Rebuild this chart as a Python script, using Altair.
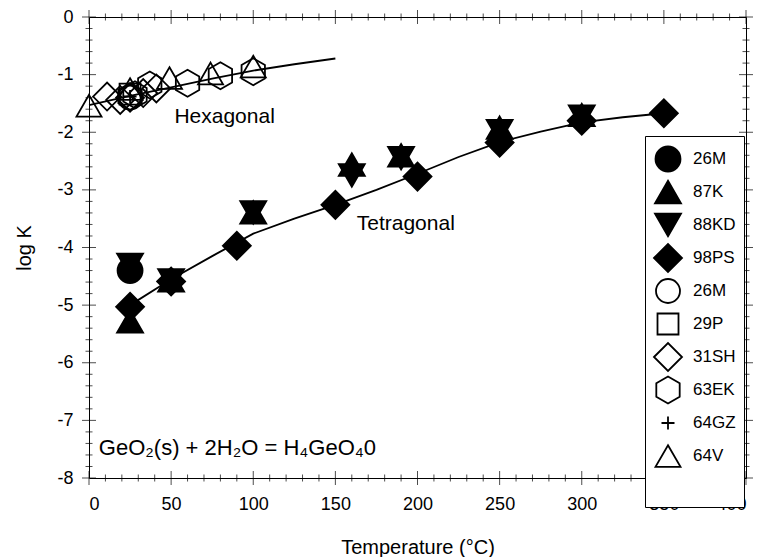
import altair as alt
import pandas as pd

FONT = "Liberation Sans"

# ---- fitted curves ----
hex_T = [0, 25, 50, 75, 100, 125, 150]
hex_logK = [-1.53, -1.37, -1.22, -1.07, -0.93, -0.82, -0.72]
tet_T = [25, 50, 75, 100, 125, 150, 175, 200, 225, 250, 275, 300, 325, 350]
tet_logK = [-5.0, -4.55, -4.15, -3.76, -3.50, -3.26, -3.00, -2.72, -2.43, -2.17, -1.99, -1.83, -1.74, -1.67]

# ---- measured points (tetragonal, filled symbols) ----
m26_T = [25]
m26_K = [-4.40]
k87_T = [25, 50, 100, 160, 190, 250, 300]
k87_K = [-5.28, -4.57, -3.39, -2.56, -2.40, -1.92, -1.70]
kd88_T = [25, 50, 100, 160, 190, 250, 300]
kd88_K = [-4.30, -4.57, -3.39, -2.75, -2.45, -1.98, -1.73]
ps98_T = [25, 50, 90, 150, 200, 250, 300, 350]
ps98_K = [-5.03, -4.59, -3.97, -3.26, -2.77, -2.18, -1.80, -1.67]

# ---- measured points (hexagonal, open symbols) ----
m26h_T = [25]
m26h_K = [-1.40]
p29_T = [25]
p29_K = [-1.34]
sh31_T = [11, 19, 25, 33, 41]
sh31_K = [-1.38, -1.44, -1.40, -1.32, -1.24]
ek63_T = [25, 28, 37, 60, 80, 100]
ek63_K = [-1.38, -1.35, -1.18, -1.15, -1.02, -0.95]
gz64_T = [25]
gz64_K = [-1.38]
v64_T = [0, 25, 49, 74, 100]
v64_K = [-1.54, -1.25, -1.06, -0.98, -0.86]

sources = ["26M_t", "87K", "88KD", "98PS", "26M_h", "29P", "31SH", "63EK", "64GZ", "64V"]
# symbol outlines in a unit box (all drawn at one common size);
# the leading "M-1,-1M1,1" gives every symbol the same bounds, so legend rows are even
BOX = "M-1,-1M1,1"
CIRC_F = BOX + "M-0.893,0A0.893,0.893,0,1,0,0.893,0A0.893,0.893,0,1,0,-0.893,0Z"
TRI_UP = BOX + "M0,-0.804L0.929,0.804L-0.929,0.804Z"
TRI_DN = BOX + "M0,0.804L0.929,-0.804L-0.929,-0.804Z"
DIAM = BOX + "M-1,0L0,-1L1,0L0,1Z"
CIRC_O = BOX + "M-0.857,0A0.857,0.857,0,1,0,0.857,0A0.857,0.857,0,1,0,-0.857,0Z"
SQR = BOX + "M-0.75,-0.75H0.75V0.75H-0.75Z"
HEX = BOX + "M0,-0.964L0.835,-0.482L0.835,0.482L0,0.964L-0.835,0.482L-0.835,-0.482Z"
PLUS = BOX + "M-0.464,0H0.464M0,-0.464V0.464"
TRI_O = BOX + "M0,-0.773L0.893,0.773L-0.893,0.773Z"
shapes = [CIRC_F, TRI_UP, TRI_DN, DIAM, CIRC_O, SQR, DIAM, HEX, PLUS, TRI_O]
fills = ["black"] * 4 + ["transparent"] * 6
strokes = ["black"] * 10
SYM = 784

series = [
    ("26M_t", m26_T, m26_K), ("87K", k87_T, k87_K), ("88KD", kd88_T, kd88_K),
    ("98PS", ps98_T, ps98_K), ("26M_h", m26h_T, m26h_K), ("29P", p29_T, p29_K),
    ("31SH", sh31_T, sh31_K), ("63EK", ek63_T, ek63_K), ("64GZ", gz64_T, gz64_K),
    ("64V", v64_T, v64_K),
]
rows = []
for name, ts, ks in series:
    for t, k in zip(ts, ks):
        rows.append({"T": t, "logK": k, "src": name})
pts = pd.DataFrame(rows)

fit = pd.concat([
    pd.DataFrame({"T": hex_T, "logK": hex_logK, "phase": "hex"}),
    pd.DataFrame({"T": tet_T, "logK": tet_logK, "phase": "tet"}),
])

# ---- tick decorations ----
x_major = list(range(0, 401, 50))
x_minor = [v for v in range(0, 401, 10) if v % 50 != 0]
y_major = list(range(-8, 1))
y_minor = [round(-8 + 0.2 * i, 1) for i in range(41) if (i % 5) != 0]

def xticks(vals):
    return pd.DataFrame([{"T": v, "logK": e} for v in vals for e in (-8, 0)])

def yticks(vals):
    return pd.DataFrame([{"T": e, "logK": v} for v in vals for e in (0, 400)])

xscale = alt.Scale(domain=[0, 400], nice=False, zero=False)
yscale = alt.Scale(domain=[-8, 0], nice=False, zero=False)
xaxis = alt.Axis(values=x_major, title="Temperature (°C)", ticks=False, domain=False,
                 grid=False, labelFontSize=18, labelPadding=17, titleFontSize=20,
                 titlePadding=24, labelFont=FONT, titleFont=FONT, titleFontWeight="normal",
                 labelColor="black", titleColor="black", labelExpr="'' + datum.value")
yaxis = alt.Axis(values=y_major, title="log K", ticks=False, domain=False, grid=False,
                 labelFontSize=18, labelPadding=16, titleFontSize=20, titlePadding=22,
                 labelFont=FONT, titleFont=FONT, titleFontWeight="normal",
                 labelColor="black", titleColor="black", labelExpr="'' + datum.value")

X = alt.X("T:Q", scale=xscale, axis=xaxis)
Y = alt.Y("logK:Q", scale=yscale, axis=yaxis)

lines = alt.Chart(fit).mark_line(color="black", strokeWidth=1.8).encode(
    x=X, y=Y, detail="phase:N")

legend = alt.Legend(
    orient="none", legendX=556, legendY=119, padding=8,
    strokeColor="black", fillColor="white",
    labelFontSize=17, labelFont=FONT, labelColor="black", labelOffset=10,
    labelExpr="split(datum.label, '_')[0]",
    rowPadding=-6.2, symbolSize=SYM, symbolStrokeColor="black", symbolStrokeWidth=1.8,
    title=" ", titleOrient="bottom", titleFontSize=10, titlePadding=15,
)

points = alt.Chart(pts).mark_point(
    filled=False, stroke="black", strokeWidth=1.8, opacity=1, fillOpacity=1, size=SYM
).encode(
    x=X, y=Y,
    shape=alt.Shape("src:N", scale=alt.Scale(domain=sources, range=shapes), legend=legend),
    fill=alt.Fill("src:N", scale=alt.Scale(domain=sources, range=fills), legend=legend),
    stroke=alt.Stroke("src:N", scale=alt.Scale(domain=sources, range=strokes), legend=legend),
)

tick_layers = [
    alt.Chart(xticks(x_major)).mark_tick(orient="vertical", size=14, thickness=1, color="black").encode(x=X, y=Y),
    alt.Chart(xticks(x_minor)).mark_tick(orient="vertical", size=7, thickness=1, color="black").encode(x=X, y=Y),
    alt.Chart(yticks(y_major)).mark_tick(orient="horizontal", size=14, thickness=1, color="black").encode(x=X, y=Y),
    alt.Chart(yticks(y_minor)).mark_tick(orient="horizontal", size=7, thickness=1, color="black").encode(x=X, y=Y),
]

ann_text = ["Hexagonal", "Tetragonal"]
ann_T = [52, 163]
ann_K = [-1.845, -3.70]
ann = alt.Chart(pd.DataFrame({"T": ann_T, "logK": ann_K, "txt": ann_text})).mark_text(
    align="left", baseline="alphabetic", fontSize=21, font=FONT, color="black"
).encode(x=X, y=Y, text="txt:N")

eq_text = ["GeO₂(s) + 2H₂O = H₄GeO₄0"]
eq = alt.Chart(pd.DataFrame({"T": [6], "logK": [-7.60], "txt": eq_text})).mark_text(
    align="left", baseline="alphabetic", fontSize=22, font=FONT, color="black"
).encode(x=X, y=Y, text="txt:N")

chart = alt.layer(lines, *tick_layers, ann, eq, points).properties(
    width=657, height=461,
    padding={"left": 6, "top": 0, "right": 5, "bottom": 0},
    background="white",
).configure_view(stroke="black", strokeWidth=1)

chart.save("out.html", embed_options={"renderer": "svg", "actions": False})
